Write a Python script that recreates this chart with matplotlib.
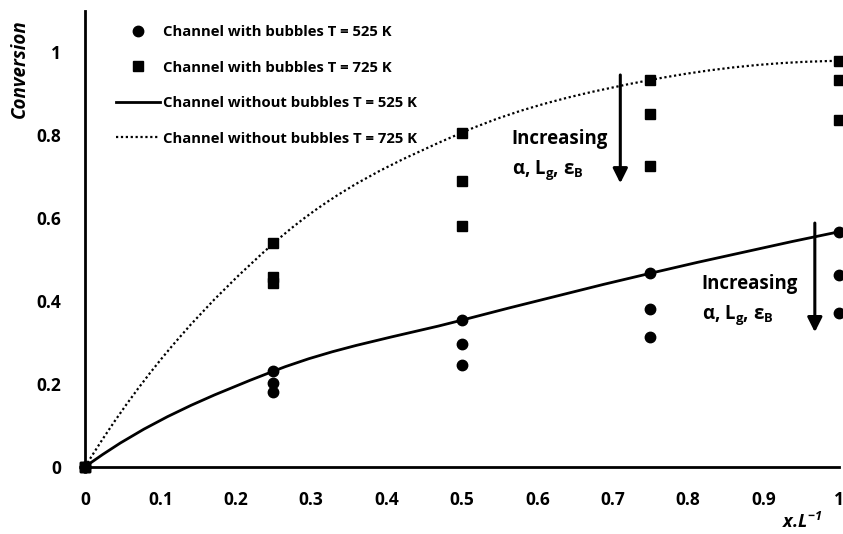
import numpy as np
import matplotlib.pyplot as plt
from matplotlib.path import Path
from matplotlib.patches import PathPatch

plt.rcParams['font.family'] = ['Open Sans', 'DejaVu Sans']

# position along channel
x_pos = [0, 0.25, 0.5, 0.75, 1.0]

# channel with bubbles, T = 525 K (three cases per position)
bub525_a = [0, 0.231, 0.354, 0.467, 0.567]
bub525_b = [0, 0.203, 0.296, 0.382, 0.463]
bub525_c = [0, 0.181, 0.247, 0.314, 0.370]

# channel with bubbles, T = 725 K
bub725_a = [0, 0.539, 0.806, 0.933, 0.979]
bub725_b = [0, 0.459, 0.689, 0.851, 0.934]
bub725_c = [0, 0.443, 0.581, 0.725, 0.836]

# channel without bubbles (smoothed lines)
nob525 = [0, 0.231, 0.354, 0.467, 0.567]
nob725 = [0, 0.539, 0.806, 0.933, 0.979]


def smooth_path(xs, ys, k=1 / 6):
    # smoothed line: catmull-rom segments drawn as cubic beziers
    pts = np.column_stack([xs, ys]).astype(float)
    first = 4 * pts[0] - 6 * pts[1] + 4 * pts[2] - pts[3]
    last = 3 * pts[-1] - 3 * pts[-2] + pts[-3]
    ext = np.vstack([first, pts, last])
    verts = [pts[0]]
    codes = [Path.MOVETO]
    for i in range(1, len(ext) - 2):
        p0, p1, p2, p3 = ext[i - 1], ext[i], ext[i + 1], ext[i + 2]
        verts += [p1 + (p2 - p0) * k, p2 - (p3 - p1) * k, p2]
        codes += [Path.CURVE4] * 3
    return Path(verts, codes)


dotted = (0, (1, 1.2))

fig = plt.figure(figsize=(8.43, 5.34), dpi=100)
ax = fig.add_axes([0.1008, 0.1255, 0.8944, 0.8545])

ax.add_patch(PathPatch(smooth_path(x_pos, nob525), fill=False, color='black',
                       lw=2, zorder=2))
ax.add_patch(PathPatch(smooth_path(x_pos, nob725), fill=False, color='black', lw=1.6,
                       linestyle=dotted, zorder=2))

for ys in [bub525_a, bub525_b, bub525_c]:
    ax.plot(x_pos, ys, 'o', color='black', ms=7.5, clip_on=False, zorder=3)
for ys in [bub725_a, bub725_b, bub725_c]:
    ax.plot(x_pos, ys, 's', color='black', ms=7.5, clip_on=False, zorder=3)

# legend handles
h1, = ax.plot([], [], 'o', color='black', ms=7.5)
h2, = ax.plot([], [], 's', color='black', ms=7)
h3, = ax.plot([], [], '-', color='black', lw=2)
h4, = ax.plot([], [], color='black', lw=1.6, linestyle=dotted)
ax.legend([h1, h2, h3, h4],
          ['Channel with bubbles T = 525 K', 'Channel with bubbles T = 725 K',
           'Channel without bubbles T = 525 K', 'Channel without bubbles T = 725 K'],
          loc='upper left', bbox_to_anchor=(0.024, 0.998), frameon=False,
          labelspacing=1.45, handlelength=2.9, handletextpad=0.2,
          prop={'weight': 'bold', 'size': 10.7})

# arrows and annotations
arrow = dict(arrowstyle='-|>', color='black', lw=2.2, mutation_scale=22,
             shrinkA=0, shrinkB=0)
ax.annotate('', xy=(0.71, 0.684), xytext=(0.71, 0.945), arrowprops=arrow)
ax.annotate('', xy=(0.968, 0.325), xytext=(0.968, 0.588), arrowprops=arrow)
ax.text(0.566, 0.79, 'Increasing', fontsize=13.4, fontweight='bold', va='center')
ax.text(0.566, 0.716, r'α, L$_\mathregular{g}$, ε$_\mathregular{B}$', fontsize=13.4,
        fontweight='bold', va='center')
ax.text(0.818, 0.441, 'Increasing', fontsize=13.4, fontweight='bold', va='center')
ax.text(0.818, 0.366, r'α, L$_\mathregular{g}$, ε$_\mathregular{B}$', fontsize=13.4,
        fontweight='bold', va='center')

ax.set_xlim(0, 1)
ax.set_ylim(0, 1.1)
ax.set_xticks(np.arange(0, 1.01, 0.1))
ax.set_xticklabels(['0', '0.1', '0.2', '0.3', '0.4', '0.5', '0.6', '0.7', '0.8', '0.9', '1'])
ax.set_yticks([0, 0.2, 0.4, 0.6, 0.8, 1.0])
ax.set_yticklabels(['0', '0.2', '0.4', '0.6', '0.8', '1'])
ax.tick_params(length=0, labelsize=12.5)
ax.tick_params(axis='x', pad=17)
ax.tick_params(axis='y', pad=17)
for lab in ax.get_xticklabels() + ax.get_yticklabels():
    lab.set_fontweight('bold')

for s in ['top', 'right']:
    ax.spines[s].set_visible(False)
for s in ['left', 'bottom']:
    ax.spines[s].set_linewidth(2)

ax.text(-0.086, 0.874, 'Conversion', transform=ax.transAxes, rotation=90,
        fontsize=13.5, fontweight='bold', style='italic', ha='center', va='center')
ax.text(0.951, -0.121, r'x.L$^{\mathregular{-1}}$', transform=ax.transAxes,
        fontsize=13, fontweight='bold', style='italic', ha='center', va='center')

fig.savefig('out.png', dpi=100)
